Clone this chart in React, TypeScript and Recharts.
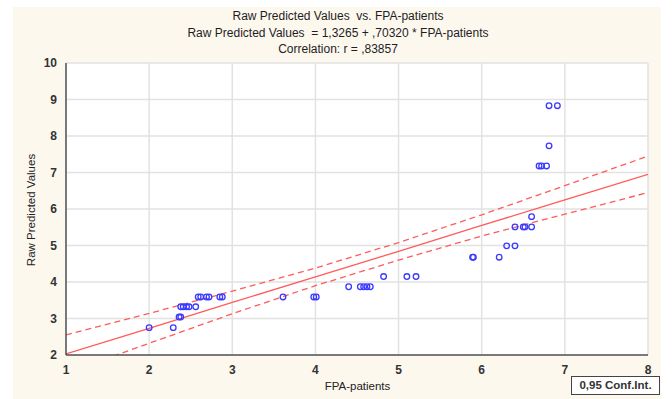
import React from 'react'
import { ComposedChart, CartesianGrid, Line, Scatter, XAxis, YAxis } from 'recharts'

const fpaPatients = [
  2.0, 2.29, 2.36, 2.38, 2.38, 2.41, 2.45, 2.48, 2.56, 2.59, 2.62, 2.69, 2.72, 2.85, 2.88,
  3.61, 3.98, 4.01, 4.4, 4.54, 4.58, 4.62, 4.66, 4.82, 5.1, 5.21, 5.89, 5.9, 6.21, 6.3,
  6.4, 6.4, 6.5, 6.52, 6.6, 6.6, 6.69, 6.72, 6.78, 6.81, 6.81, 6.91,
]
const rawPredicted = [
  2.75, 2.75, 3.04, 3.04, 3.32, 3.32, 3.32, 3.32, 3.32, 3.59, 3.59, 3.59, 3.59, 3.59, 3.59,
  3.59, 3.59, 3.59, 3.87, 3.87, 3.87, 3.87, 3.87, 4.15, 4.15, 4.15, 4.68, 4.68, 4.68, 4.99,
  4.99, 5.51, 5.51, 5.51, 5.51, 5.79, 7.18, 7.18, 7.18, 7.73, 8.83, 8.83,
]

// regression line and 0.95 confidence band, read at each x tick
const bandX = [1, 2, 3, 4, 5, 6, 7, 8]
const fitY = [2.03, 2.73, 3.44, 4.14, 4.84, 5.55, 6.25, 6.95]
const upperY = [2.55, 3.14, 3.75, 4.38, 5.08, 5.84, 6.64, 7.45]
const lowerY = [1.51, 2.32, 3.13, 3.9, 4.6, 5.26, 5.86, 6.45]

const xTicks = [1, 2, 3, 4, 5, 6, 7, 8]
const yTicks = [2, 3, 4, 5, 6, 7, 8, 9, 10]

const titleLines = [
  'Raw Predicted Values  vs. FPA-patients',
  'Raw Predicted Values  = 1,3265 + ,70320 * FPA-patients',
  'Correlation: r = ,83857',
]

const points = fpaPatients.map((x, i) => ({ x, y: rawPredicted[i] }))
const fit = bandX.map((x, i) => ({ x, y: fitY[i] }))
const upper = bandX.map((x, i) => ({ x, y: upperY[i] }))
const lower = bandX.map((x, i) => ({ x, y: lowerY[i] }))

const font = '"Liberation Sans", Arial, sans-serif'
const red = '#ff5b5b'
const blue = '#3a3aff'
const axisColor = '#555'

const Ring = (props: any) => (
  <circle cx={props.cx} cy={props.cy} r={2.8} fill="none" stroke={blue} strokeWidth={1.3} />
)

export default function App() {
  return (
    <div style={{ position: 'fixed', left: 0, top: 0, width: 672, height: 399, background: '#fff', fontFamily: font }}>
      <div style={{ position: 'absolute', left: 13, top: 7, width: 648, height: 392, background: '#fdf8ee' }} />
      {titleLines.map((t, i) => (
        <div
          key={i}
          style={{
            position: 'absolute', left: 0, width: 676, top: 9 + i * 16.5, textAlign: 'center',
            fontSize: 12, color: '#1e1e1e', whiteSpace: 'pre',
          }}
        >
          {t}
        </div>
      ))}
      <div style={{ position: 'absolute', left: 0, top: 0 }}>
        <ComposedChart width={672} height={399} margin={{ top: 63, right: 24, bottom: 14, left: 36 }}>
          <CartesianGrid stroke="#e2e2e2" strokeWidth={1.5} fill="#fff" />
          <XAxis
            dataKey="x" type="number" domain={[1, 8]} ticks={xTicks} allowDataOverflow
            stroke={axisColor} strokeWidth={1.5} tickLine={false} height={30}
            tick={{ fill: '#333', fontSize: 12, fontWeight: 'bold', fontFamily: font }} tickMargin={4}
          />
          <XAxis
            xAxisId="top" orientation="top" dataKey="x" type="number" domain={[1, 8]} ticks={xTicks}
            stroke={axisColor} strokeWidth={1.5} tick={false} tickLine={false} height={0}
          />
          <XAxis
            xAxisId="in" dataKey="x" type="number" domain={[1, 8]} ticks={xTicks} mirror
            stroke={axisColor} axisLine={false} tick={false} tickSize={3} height={0}
          />
          <YAxis
            dataKey="y" type="number" domain={[2, 10]} ticks={yTicks} allowDataOverflow
            stroke={axisColor} strokeWidth={1.5} tickLine={false} width={30}
            tick={{ fill: '#333', fontSize: 12, fontWeight: 'bold', fontFamily: font }} tickMargin={3}
          />
          <YAxis
            yAxisId="in" type="number" domain={[2, 10]} ticks={yTicks} mirror
            stroke={axisColor} axisLine={false} tick={false} tickSize={3} width={0}
          />
          <YAxis
            yAxisId="right" orientation="right" type="number" domain={[2, 10]} ticks={yTicks} mirror
            stroke={axisColor} strokeWidth={1.5} tick={false} tickSize={3} width={0}
          />
          <Line data={fit} dataKey="y" stroke={red} strokeWidth={1.3} dot={false} isAnimationActive={false} />
          <Line data={upper} dataKey="y" stroke={red} strokeWidth={1.3} strokeDasharray="6 4" dot={false} isAnimationActive={false} />
          <Line data={lower} dataKey="y" stroke={red} strokeWidth={1.3} strokeDasharray="6 4" dot={false} isAnimationActive={false} />
          <Scatter data={points} dataKey="y" shape={Ring} isAnimationActive={false} />
        </ComposedChart>
      </div>
      <div
        style={{
          position: 'absolute', left: 0, top: 210, width: 60, height: 0, transform: 'translate(2px,0) rotate(-90deg)',
          transformOrigin: '30px 0', textAlign: 'center', fontSize: 11.5, color: '#222', whiteSpace: 'nowrap',
        }}
      >
        <div style={{ position: 'absolute', left: -60, width: 180, top: -7 }}>Raw Predicted Values</div>
      </div>
      <div style={{ position: 'absolute', left: 300, width: 115, top: 380, textAlign: 'center', fontSize: 11.5, color: '#222' }}>
        FPA-patients
      </div>
      <div
        style={{
          position: 'absolute', left: 571, top: 376, width: 89, height: 19, boxSizing: 'border-box',
          border: '1.5px solid #444', background: '#fff', fontSize: 11.5, fontWeight: 'bold', color: '#333',
          textAlign: 'center', lineHeight: '16px',
        }}
      >
        0,95 Conf.Int.
      </div>
    </div>
  )
}
